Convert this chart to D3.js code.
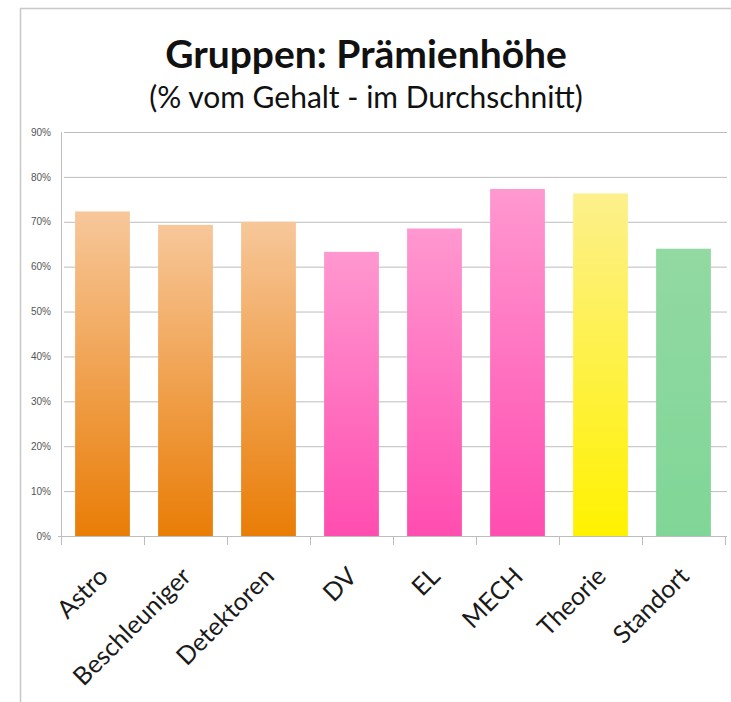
<!DOCTYPE html>
<html>
<head>
<meta charset="utf-8">
<script src="https://cdn.jsdelivr.net/npm/d3@7"></script>
<style>
  body { margin: 0; background: #fff; }
  svg { display: block; font-family: Lato, "Open Sans", sans-serif; }
</style>
</head>
<body>
<svg id="chart" width="731" height="702"></svg>
<script>
// Werte
const categories = ['Astro', 'Beschleuniger', 'Detektoren', 'DV', 'EL', 'MECH', 'Theorie', 'Standort'];
const values = [72.3, 69.3, 70.0, 63.3, 68.5, 77.3, 76.3, 64.0];
const groups = ['orange', 'orange', 'orange', 'pink', 'pink', 'pink', 'yellow', 'green'];
const yTicks = [0, 10, 20, 30, 40, 50, 60, 70, 80, 90];

const colors = {
  orange: ['#f7c79a', '#e97d06'],
  pink: ['#ff98d0', '#ff4db0'],
  yellow: ['#fdf08c', '#fff200'],
  green: ['#92d9a2', '#80d697']
};

const svg = d3.select('#chart');
const margin = {left: 61, right: 6, top: 132, bottom: 166};
const width = 731, height = 702;

// Rahmen
svg.append('path')
  .attr('d', `M20.5,702 V8.5 H731`)
  .attr('fill', 'none')
  .attr('stroke', '#c8c8c8')
  .attr('stroke-width', 1.5);

svg.append('text')
  .attr('x', 366).attr('y', 68)
  .attr('text-anchor', 'middle')
  .attr('font-size', 39).attr('font-weight', 'bold')
  .attr('fill', '#111')
  .text('Gruppen: Prämienhöhe');

svg.append('text')
  .attr('x', 366).attr('y', 108)
  .attr('text-anchor', 'middle')
  .attr('font-size', 30)
  .attr('fill', '#111')
  .text('(% vom Gehalt - im Durchschnitt)');

const x = d3.scaleBand()
  .domain(categories)
  .range([margin.left, width - margin.right])
  .paddingInner(0.34)
  .paddingOuter(0.17);

const y = d3.scaleLinear()
  .domain([0, 90])
  .range([height - margin.bottom, margin.top]);

const defs = svg.append('defs');
Object.keys(colors).forEach(k => {
  const g = defs.append('linearGradient')
    .attr('id', 'grad-' + k)
    .attr('x1', 0).attr('y1', 0).attr('x2', 0).attr('y2', 1);
  g.append('stop').attr('offset', '0%').attr('stop-color', colors[k][0]);
  g.append('stop').attr('offset', '100%').attr('stop-color', colors[k][1]);
});

// Gitterlinien
svg.append('g')
  .attr('transform', `translate(${margin.left},0)`)
  .call(d3.axisLeft(y).tickValues(yTicks)
    .tickSize(-(width - margin.left - margin.right + 2))
    .tickPadding(10)
    .tickFormat(d => d + '%'))
  .call(g => g.select('.domain').remove())
  .call(g => g.selectAll('.tick line')
    .attr('x1', 3)
    .attr('stroke', '#bdbdbd'))
  .call(g => g.selectAll('.tick text')
    .attr('font-size', 10)
    .attr('fill', '#555'));

// Balken
svg.append('g')
  .selectAll('rect')
  .data(categories)
  .join('rect')
  .attr('x', d => x(d))
  .attr('y', (d, i) => y(values[i]))
  .attr('width', x.bandwidth())
  .attr('height', (d, i) => y(0) - y(values[i]))
  .attr('fill', (d, i) => `url(#grad-${groups[i]})`);

// x-Achse
const step = x.step();
const xTickPos = d3.range(categories.length + 1).map(i => margin.left + i * step);
const xAxis = svg.append('g');
xAxis.append('line')
  .attr('x1', margin.left - 3).attr('x2', width - margin.right + 1)
  .attr('y1', y(0) + 0.5).attr('y2', y(0) + 0.5)
  .attr('stroke', '#bdbdbd');
xAxis.selectAll('line.tick')
  .data(xTickPos)
  .join('line')
  .attr('class', 'tick')
  .attr('x1', d => d + 0.5).attr('x2', d => d + 0.5)
  .attr('y1', y(0)).attr('y2', y(0) + 9)
  .attr('stroke', '#bdbdbd');
// y-Achsenlinie
xAxis.append('line')
  .attr('x1', margin.left + 0.5).attr('x2', margin.left + 0.5)
  .attr('y1', y(90)).attr('y2', y(0) + 9)
  .attr('stroke', '#bdbdbd');

xAxis.selectAll('text')
  .data(categories)
  .join('text')
  .attr('transform', d => `translate(${x(d) + x.bandwidth() / 2 + 7},${y(0) + 42}) rotate(-45)`)
  .attr('text-anchor', 'end')
  .attr('font-size', 25)
  .attr('fill', '#1a1a1a')
  .text(d => d);
</script>
</body>
</html>
